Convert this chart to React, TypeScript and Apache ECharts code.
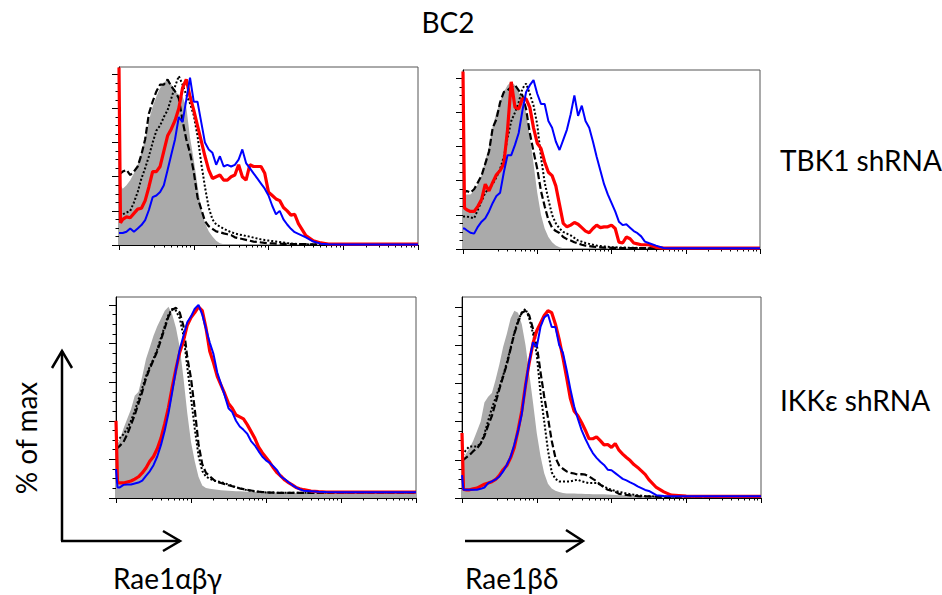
import React, { useEffect, useRef } from "react";
import * as echarts from "echarts";

// Shared x grid (log10 fluorescence units, 0..4 decades)
const xs = [
  0, 0.02, 0.05, 0.1, 0.15, 0.2, 0.25, 0.3, 0.35, 0.4,
  0.45, 0.5, 0.55, 0.6, 0.65, 0.7, 0.75, 0.8, 0.85, 0.9,
  0.95, 1.0, 1.05, 1.1, 1.15, 1.2, 1.25, 1.3, 1.35, 1.4,
  1.45, 1.5, 1.55, 1.6, 1.65, 1.7, 1.75, 1.8, 1.85, 1.9,
  1.95, 2.0, 2.05, 2.1, 2.15, 2.2, 2.25, 2.3, 2.35, 2.4,
  2.45, 2.5, 2.6, 2.7, 2.8, 3.0, 3.5, 4.0,
];

// Panel 1: TBK1 shRNA, Rae1abg
const p1Gray = [35, 35, 33, 35, 38, 42, 47, 54, 62, 73, 81, 87, 92, 95, 97, 94, 90, 88, 87, 81, 63, 50, 35, 21, 13, 8, 5, 2.5, 1, 0.5, 0.3, 0.2, 0, 0, 0, 0, 0, 0, 0, 0, 0, 0, 0, 0, 0, 0, 0, 0, 0, 0, 0, 0, 0, 0, 0, 0, 0, 0];
const p1Dash = [42, 42, 43, 44, 41, 43, 46, 53, 62, 77, 84, 90, 94, 94, 97, 93, 90, 86, 73, 62, 54, 43, 28, 21, 14, 11, 9.5, 8, 7.5, 6.8, 6.3, 5.8, 4.5, 4, 3.5, 3, 2.5, 2, 1.8, 1.5, 1.3, 1, 0.9, 0.8, 0.8, 0.7, 0.7, 0.6, 0.6, 0.5, 0.5, 0.5, 0.4, 0.3, 0.3, 0.3, 0.3, 0.3];
const p1Dot = [18, 18, 18, 19, 20, 25, 31, 39, 45, 52, 60, 67, 70, 75, 79, 86, 93, 99, 94, 88, 83, 76, 64, 48, 34, 22, 15, 12, 10.8, 9.5, 8.5, 7.5, 6.8, 6.2, 5.8, 5.3, 4.9, 4.3, 3.8, 3.3, 2.9, 2.6, 2.3, 2, 1.7, 1.4, 1.1, 0.9, 0.7, 0.6, 0.5, 0.4, 0.3, 0.3, 0.3, 0.3, 0.3, 0.3];
const p1Blue = [7, 7, 7, 7.8, 9.7, 7.8, 9.7, 11.7, 14.6, 20.5, 28, 29, 31, 35, 44, 53, 62, 75, 72, 85, 98, 84, 84, 72, 60, 56, 54, 47, 52, 46, 47, 46, 47, 50, 56, 48, 45, 42, 39, 36, 33, 29, 23, 18, 20, 15, 12, 9.5, 7.5, 6.5, 5.5, 4.5, 2, 0.8, 0.5, 0.3, 0.3, 0.3];
const p1Red = [104, 13, 15, 16.5, 16, 18.5, 21, 21.5, 26, 34, 43, 43, 46, 55, 64, 68, 73, 80, 92, 97, 87, 79, 70, 61, 52, 44, 39, 40, 41, 38, 38, 40, 41, 47, 40, 38, 47, 46, 46, 46, 42, 31, 29, 27, 26, 22, 20, 17.5, 18, 12.5, 9, 5.5, 2.5, 1.2, 0.6, 0.5, 0.5, 0.5];

// Panel 2: TBK1 shRNA, Rae1bd
const p2Gray = [32, 32, 32, 32, 34, 38, 43, 52, 60, 72, 80, 86, 92, 96, 98, 96, 92, 88, 80, 66, 50, 33, 20, 12, 7, 4, 2, 1, 0.5, 0, 0, 0, 0, 0, 0, 0, 0, 0, 0, 0, 0, 0, 0, 0, 0, 0, 0, 0, 0, 0, 0, 0, 0, 0, 0, 0, 0, 0];
const p2Dash = [33, 33, 34, 33, 35, 39, 43, 50, 57, 71, 76, 86, 92, 93, 95, 96, 93, 90, 82, 68, 57, 47, 34, 25, 17, 12.5, 10.5, 9.4, 7, 5.8, 5, 4, 3.3, 2.5, 2, 1.7, 1.4, 1.2, 1, 0.8, 0.8, 0.7, 0.7, 0.6, 0.6, 0.6, 0.5, 0.5, 0.5, 0.5, 0.5, 0.5, 0.4, 0.4, 0.4, 0.4, 0.4, 0.4];
const p2Dot = [19, 19, 19, 18.5, 18, 23, 28, 33, 35.5, 38, 42, 47, 54, 65, 75, 80, 86, 94, 97, 91, 84, 73, 54, 39, 29, 20, 15, 12, 10, 9, 8, 6.5, 5, 4.3, 3.5, 3, 2.5, 2, 1.8, 1.5, 1.3, 1.1, 1, 0.9, 0.85, 0.8, 0.75, 0.7, 0.65, 0.6, 0.55, 0.5, 0.4, 0.4, 0.4, 0.4, 0.4, 0.4];
const p2Blue = [12, 12, 11, 9.5, 9, 13, 16, 18, 22, 27, 31, 33, 45, 55, 55, 61, 68, 81, 92, 96, 99, 91, 85, 85, 75, 71, 63, 58, 64, 70, 79, 90, 78, 84, 75, 71, 63, 54, 46, 38, 32, 27, 22, 16, 14, 14.5, 12.5, 10.5, 9.3, 7.4, 4.3, 3.5, 2, 0.6, 0.4, 0.4, 0.4, 0.4];
const p2Red = [104, 24, 23, 22, 22, 25, 29, 38, 34, 39, 43.5, 46, 50, 70, 98, 83, 82, 88, 88, 83, 71, 62, 59, 51, 45, 43, 37, 26, 15, 13, 14, 15.5, 14.5, 12.5, 10.5, 9.5, 12, 14, 12.5, 13, 13, 14, 12, 4, 3.5, 7, 6, 3.5, 3, 2.5, 2.5, 2.5, 1, 0.5, 0.5, 0.5, 0.5, 0.5];

// Panel 3: IKKe shRNA, Rae1abg
const p3Gray = [28, 28, 30, 36, 41, 46, 53, 55, 63, 72, 78, 84, 89, 93, 97, 99, 95, 88, 78, 62, 44, 29, 19, 11, 6.5, 5.2, 4.8, 4.5, 4.3, 4, 3.9, 3.7, 3.6, 3.5, 3.5, 3.4, 3.3, 3.2, 3.1, 3.1, 3, 3, 2.9, 2.9, 2.8, 2.8, 2.7, 2.7, 2.6, 2.6, 2.5, 2.5, 2.5, 2.5, 2.5, 2.5, 2.5, 2.5];
const p3Dash = [26, 26, 27, 29, 33, 38, 43, 49, 55, 62, 67, 71.5, 76, 82, 88, 94, 97.5, 98.5, 96, 89, 73, 62, 46, 28, 17.5, 13, 11.3, 9.5, 8.2, 7.8, 7.2, 6.6, 6.1, 5.5, 5, 4.6, 4.2, 3.9, 3.6, 3.3, 3.1, 2.9, 2.8, 2.8, 2.7, 2.7, 2.7, 2.7, 2.7, 2.7, 2.7, 2.7, 2.7, 2.7, 2.7, 2.7, 2.7, 2.7];
const p3Dot = [30, 30, 31, 33, 36, 40, 45, 51, 57, 63, 68, 72, 77, 83, 89, 95, 98, 97, 93, 84, 68, 52, 36, 22, 14, 11, 10, 9, 8.6, 8.2, 7.6, 7, 6.3, 5.6, 5, 4.5, 4, 3.7, 3.4, 3.2, 3, 2.9, 2.8, 2.8, 2.7, 2.7, 2.7, 2.7, 2.7, 2.7, 2.7, 2.7, 2.7, 2.7, 2.7, 2.7, 2.7, 2.7];
const p3Blue = [15, 5.5, 5.5, 6.8, 7, 7, 7.5, 8, 9, 11.5, 13.8, 17, 21.5, 27.5, 35, 44, 55, 66.5, 77, 84, 91, 94, 98, 100, 95, 87.5, 80.5, 74.5, 65, 59, 53, 46.5, 44.5, 40, 37, 35.3, 33.3, 29.5, 27.3, 24.3, 21.5, 19.5, 18.2, 16.3, 14.3, 11, 9.8, 8.2, 6.7, 5.5, 4.5, 3.8, 3.5, 3.2, 3.1, 3, 3, 3];
const p3Red = [40, 8, 7.8, 7.8, 8.3, 8.8, 9.8, 11, 13, 15.5, 19, 21.5, 25.5, 31, 38.5, 47, 57.5, 67, 75.5, 81.5, 89.5, 93.5, 96, 99, 97, 88, 76, 70, 63, 58.5, 54, 49, 46.5, 43, 42, 41, 38, 34.5, 31, 26.5, 23.5, 21, 18.5, 15.5, 13, 11.3, 9.3, 8, 6.8, 5.5, 4.8, 4.3, 3.6, 3.3, 3.1, 3, 3, 3];

// Panel 4: IKKe shRNA, Rae1bd
const p4Gray = [19, 20, 23, 26, 30, 35, 40, 50, 53, 55, 62, 70, 79, 86, 94, 98, 97, 91, 80, 65, 50, 34, 22, 13, 7.5, 5, 3.8, 3.1, 2.6, 2.4, 2.3, 2.3, 2.2, 2.2, 2.1, 2.1, 2, 2, 1.9, 1.9, 1.8, 1.7, 1.6, 1.5, 1.4, 1.3, 1.2, 1.1, 1, 1, 1, 1, 1, 1, 1, 1, 1, 1];
const p4Dash = [20, 20, 21, 22.5, 24.5, 26, 28.5, 32.5, 38, 43, 50, 57, 63.5, 70, 78, 86, 92, 97, 98, 95.5, 88.5, 80, 66, 53, 42, 30, 21, 17, 15.3, 13.9, 13.2, 12.8, 12.2, 12.5, 12.2, 11.3, 10, 8.8, 7, 5.5, 4.3, 3.8, 3.2, 2.2, 1.9, 1.6, 1.4, 1.2, 1, 0.8, 0.8, 0.8, 0.7, 0.6, 0.6, 0.6, 0.6, 0.6];
const p4Dot = [23, 23, 25, 27, 27, 27, 28.5, 33.5, 40.5, 47, 52.5, 58, 64, 71, 78.5, 86.5, 93, 97, 99, 94, 86, 75, 55, 40, 25, 13.5, 10, 8.7, 8.7, 8.7, 8.7, 9.2, 9.6, 8.7, 8.2, 7.8, 7.8, 7.8, 7, 6, 5, 4.3, 3.7, 3.2, 2.8, 2.4, 2, 1.7, 1.4, 1.2, 1, 0.9, 0.8, 0.7, 0.7, 0.7, 0.7, 0.7];
const p4Blue = [12, 4.3, 4.3, 4.3, 4.3, 4.3, 4.8, 5.5, 7.8, 8.7, 9.7, 11.3, 13.9, 17.4, 21.5, 28, 35, 44, 59, 71.5, 81.5, 79, 89.5, 94.5, 96, 89.5, 89.5, 80, 76, 67, 57, 48, 41.5, 35.5, 31, 27, 23.5, 21, 19, 17.3, 14.8, 14.5, 13, 11.5, 10, 9.2, 8.2, 7.3, 6.1, 5.2, 4.2, 3.7, 1.5, 1, 0.9, 0.9, 0.9, 0.9];
const p4Red = [34, 4.5, 4.3, 4.3, 4.8, 5.2, 6.2, 7.2, 7.8, 8.5, 9.7, 11.8, 14.8, 17, 21, 26.5, 35.5, 45.5, 59, 71, 81, 87.5, 91.5, 95.5, 98, 97, 91, 83, 73.5, 63, 52, 45.5, 43, 39.5, 35.5, 31, 31, 32, 30, 27.8, 28, 26.5, 28.5, 25, 23, 21.2, 19.6, 17.5, 16, 14.2, 12.4, 9.6, 5.5, 3.2, 1.5, 1, 0.9, 0.9];

// Axis ticks
const xMajorTicks = [0, 1, 2, 3, 4];
const firstDecadeFactors = [3, 4, 5, 6, 7, 8, 9];
const decadeFactors = [2, 3, 4, 5, 6, 7, 8, 9];
const yMajorTicks = [0, 20, 40, 60, 80, 100];
const yMinorTicks = [5, 10, 15, 25, 30, 35, 45, 50, 55, 65, 70, 75, 85, 90, 95];

const panels = [
  { left: 119, top: 67, width: 299, height: 178, yMax: 104.3, gray: p1Gray, dash: p1Dash, dot: p1Dot, blue: p1Blue, red: p1Red },
  { left: 463, top: 70, width: 297, height: 179, yMax: 104.9, gray: p2Gray, dash: p2Dash, dot: p2Dot, blue: p2Blue, red: p2Red },
  { left: 116, top: 297, width: 300, height: 201, yMax: 104.1, gray: p3Gray, dash: p3Dash, dot: p3Dot, blue: p3Blue, red: p3Red },
  { left: 462, top: 297, width: 299, height: 201, yMax: 105.2, gray: p4Gray, dash: p4Dash, dot: p4Dot, blue: p4Blue, red: p4Red },
];

const FONT = "Lato, 'DejaVu Sans', sans-serif";

export default function App() {
  const ref = useRef<HTMLDivElement>(null);
  useEffect(() => {
    if (!ref.current) return;
    const chart = echarts.init(ref.current, undefined, { renderer: "svg" });

    const xMinor: number[] = [];
    firstDecadeFactors.forEach((f) => xMinor.push(Math.log10(f)));
    [1, 2, 3].forEach((d) => decadeFactors.forEach((f) => xMinor.push(d + Math.log10(f))));

    const grid: any[] = [];
    const xAxis: any[] = [];
    const yAxis: any[] = [];
    const series: any[] = [];

    panels.forEach((p, i) => {
      grid.push({
        left: p.left, top: p.top, width: p.width, height: p.height,
        show: true, borderColor: "#555", borderWidth: 1, backgroundColor: "transparent",
      });
      xAxis.push({
        type: "value", gridIndex: i, min: 0, max: 4, position: "bottom",
        axisLine: { show: true, onZero: false, lineStyle: { color: "#000", width: 1 } },
        axisTick: { show: true, length: 5, customValues: xMajorTicks, lineStyle: { color: "#000", width: 1 } },
        axisLabel: { show: false }, splitLine: { show: false },
      });
      xAxis.push({
        type: "value", gridIndex: i, min: 0, max: 4, position: "bottom",
        axisLine: { show: false },
        axisTick: { show: true, length: 2.5, customValues: xMinor, lineStyle: { color: "#000", width: 1 } },
        axisLabel: { show: false }, splitLine: { show: false },
      });
      yAxis.push({
        type: "value", gridIndex: i, min: 0, max: p.yMax, position: "left",
        axisLine: { show: true, onZero: false, lineStyle: { color: "#000", width: 1 } },
        axisTick: { show: true, length: 7, customValues: yMajorTicks, lineStyle: { color: "#000", width: 1 } },
        axisLabel: { show: false }, splitLine: { show: false },
      });
      yAxis.push({
        type: "value", gridIndex: i, min: 0, max: p.yMax, position: "left",
        axisLine: { show: false },
        axisTick: { show: true, length: 3.5, customValues: yMinorTicks, lineStyle: { color: "#000", width: 1 } },
        axisLabel: { show: false }, splitLine: { show: false },
      });

      const toData = (vals: number[]) => xs.map((x, k) => [x, vals[k]]);
      const base = { type: "line", xAxisIndex: 2 * i, yAxisIndex: 2 * i, showSymbol: false, symbol: "none", silent: true };
      series.push({
        ...base, name: `gray${i}`, data: toData(p.gray),
        lineStyle: { width: 0, color: "#aaaaaa" },
        areaStyle: { color: "#aaaaaa", opacity: 1 },
      });
      series.push({
        ...base, name: `dash${i}`, data: toData(p.dash),
        lineStyle: { width: 2.2, color: "#000", type: [7, 3] },
      });
      series.push({
        ...base, name: `dot${i}`, data: toData(p.dot),
        lineStyle: { width: 2, color: "#000", type: [2, 2] },
      });
      series.push({
        ...base, name: `red${i}`, data: toData(p.red),
        lineStyle: { width: 3.2, color: "#ff0000" },
      });
      series.push({
        ...base, name: `blue${i}`, data: toData(p.blue),
        lineStyle: { width: 2, color: "#0000ff" },
      });
    });

    const arrowStyle = { stroke: "#000", lineWidth: 2.5, fill: "none" };
    const textStyle = (text: string, x: number, y: number, align = "left") => ({
      type: "text", x, y,
      style: { text, fontSize: 28, fontFamily: FONT, fill: "#000", textAlign: align, textVerticalAlign: "middle" },
    });

    const graphic = [
      textStyle("BC2", 448, 22, "center"),
      textStyle("TBK1 shRNA", 780, 160),
      textStyle("IKK\u03b5 shRNA", 780, 400),
      textStyle("Rae1\u03b1\u03b2\u03b3", 113, 578),
      textStyle("Rae1\u03b2\u03b4", 465, 578),
      {
        type: "text", x: 26, y: 438, rotation: Math.PI / 2,
        style: { text: "% of max", fontSize: 28, fontFamily: FONT, fill: "#000", textAlign: "center", textVerticalAlign: "middle" },
      },
      { type: "line", shape: { x1: 62, y1: 541, x2: 62, y2: 351 }, style: arrowStyle },
      { type: "polyline", shape: { points: [[52, 368], [62, 351], [72, 368]] }, style: arrowStyle },
      { type: "line", shape: { x1: 61, y1: 541, x2: 180, y2: 541 }, style: arrowStyle },
      { type: "polyline", shape: { points: [[163, 531], [180, 541], [163, 551]] }, style: arrowStyle },
      { type: "line", shape: { x1: 465, y1: 541, x2: 583, y2: 541 }, style: arrowStyle },
      { type: "polyline", shape: { points: [[566, 530], [583, 541], [566, 552]] }, style: arrowStyle },
    ];

    chart.setOption({
      animation: false,
      backgroundColor: "#ffffff",
      grid, xAxis, yAxis, series, graphic,
    });
    return () => chart.dispose();
  }, []);

  return <div ref={ref} style={{ position: "absolute", left: 0, top: 0, width: 942, height: 595 }} />;
}
